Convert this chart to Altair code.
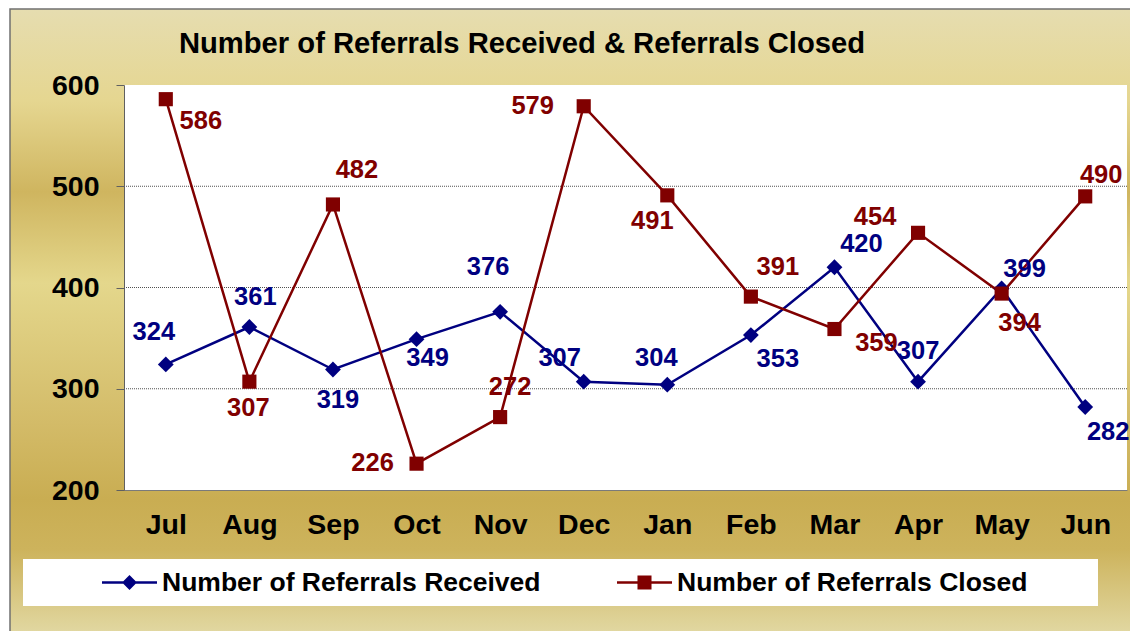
import altair as alt
import pandas as pd

# ---------------- data ----------------
months = ["Jul", "Aug", "Sep", "Oct", "Nov", "Dec", "Jan", "Feb", "Mar", "Apr", "May", "Jun"]
received = [324, 361, 319, 349, 376, 307, 304, 353, 420, 307, 399, 282]
closed = [586, 307, 482, 226, 272, 579, 491, 391, 359, 454, 394, 490]
series_names = ["Number of Referrals Received", "Number of Referrals Closed"]
y_ticks = [200, 300, 400, 500, 600]
grid_values = [300, 400, 500]
title_text = "Number of Referrals Received & Referrals Closed"

# ---------------- label placement (pixel offsets from each marker) ----------------
recv_dx = [-12, 6, 5, 11, -12, -24, -11, 27, 27, 0, 23, 23]
recv_dy = [-32, -30, 30, 19, -45, -24, -27, 24, -23, -31, -20, 25]
clos_dx = [35, -1, 24, -44, 10, -51, -15, 27, 42, -43, 18, 16]
clos_dy = [22, 26, -34, -1, -30, 0, 26, -30, 14, -16, 29, -21]

# ---------------- style ----------------
FONT = "Liberation Sans"
NAVY = "#000080"
MAROON = "#800000"
W, H = 1003, 405
PAD = {"left": 116, "top": 77, "right": 3, "bottom": 141}

rows = []
for i, m in enumerate(months):
    rows.append({"month": m, "series": series_names[0], "value": received[i],
                 "dx": recv_dx[i], "dy": recv_dy[i]})
    rows.append({"month": m, "series": series_names[1], "value": closed[i],
                 "dx": clos_dx[i], "dy": clos_dy[i]})
df = pd.DataFrame(rows)
one = pd.DataFrame({"k": [0]})
grid_df = pd.DataFrame({"g": grid_values})

gradient = alt.LinearGradient(
    gradient="linear", x1=0, x2=0, y1=0, y2=1,
    stops=[
        alt.GradientStop(offset=0.0, color="#e6ddb0"),
        alt.GradientStop(offset=0.148, color="#e5d690"),
        alt.GradientStop(offset=0.292, color="#cfb55f"),
        alt.GradientStop(offset=0.437, color="#e4d78c"),
        alt.GradientStop(offset=0.661, color="#d3bb68"),
        alt.GradientStop(offset=0.782, color="#c9ad52"),
        alt.GradientStop(offset=0.862, color="#cdb35c"),
        alt.GradientStop(offset=1.0, color="#e2d9a4"),
    ],
)

bg = alt.Chart(one).mark_rect(fill=gradient, stroke="#707070", strokeWidth=1.5).encode(
    x=alt.value(-114), x2=alt.value(W + PAD["right"] + 5),
    y=alt.value(-PAD["top"] + 1), y2=alt.value(H + PAD["bottom"] + 5),
)
legend_box = alt.Chart(one).mark_rect(fill="white").encode(
    x=alt.value(-101), x2=alt.value(974), y=alt.value(474), y2=alt.value(521)
)
plot_box = alt.Chart(one).mark_rect(fill="white").encode(
    x=alt.value(0), x2=alt.value(W), y=alt.value(0), y2=alt.value(H)
)

y_scale = alt.Scale(domain=[200, 600], nice=False, zero=False)
x_enc = alt.X(
    "month:N", sort=months, scale=alt.Scale(type="point", padding=0.5),
    axis=alt.Axis(title=None, labelAngle=0, ticks=False, tickSize=0, labelPadding=43,
                  labelBaseline="alphabetic", labelFont=FONT, labelFontSize=28.5,
                  labelFontWeight="bold", labelColor="black", domainColor="#7a7a7a",
                  domainWidth=1, zindex=1),
)
y_enc = alt.Y(
    "value:Q", scale=y_scale,
    axis=alt.Axis(title=None, values=y_ticks, grid=False, tickSize=8, tickColor="#606060",
                  domainColor="#606060", domainWidth=1, tickWidth=1, labelPadding=17,
                  labelFont=FONT, labelFontSize=28.5, labelFontWeight="bold",
                  labelColor="black", zindex=1),
)

PATH_RECV = ("M-1,-0.045L1,-0.045L1,0.045L-1,0.045Z "
             "M-0.27,0L0,-0.27L0.27,0L0,0.27Z")
PATH_CLOS = ("M-1,-0.045L1,-0.045L1,0.045L-1,0.045Z "
             "M-0.255,-0.255L0.255,-0.255L0.255,0.255L-0.255,0.255Z")


def series_legend(x, path, color):
    return alt.Legend(
        orient="none", legendX=x, legendY=470, direction="horizontal", title=None,
        padding=0, labelFont=FONT, labelFontSize=26.5, labelFontWeight="bold",
        labelColor="black", labelLimit=1000, labelOffset=5, symbolSize=3025,
        symbolStrokeWidth=0, symbolType=path, symbolFillColor=color, zindex=2,
    )


color_scale = alt.Scale(domain=series_names, range=[NAVY, MAROON])

grid = alt.Chart(grid_df).mark_rule(color="#505050", strokeWidth=1, strokeDash=[1, 1]).encode(
    y=alt.Y("g:Q", scale=y_scale)
)

lines = alt.Chart(df).mark_line(strokeWidth=2.5).encode(
    x=x_enc, y=y_enc,
    color=alt.Color("series:N", scale=color_scale, legend=None),
    detail="series:N",
)
points_recv = alt.Chart(df).transform_filter(
    alt.datum.series == series_names[0]
).mark_point(filled=True, size=250, shape="diamond", color=NAVY).encode(
    x=x_enc, y=y_enc,
    opacity=alt.Opacity("series:N", scale=alt.Scale(domain=[series_names[0]], range=[1]),
                        legend=series_legend(-22, PATH_RECV, NAVY)),
)
points_clos = alt.Chart(df).transform_filter(
    alt.datum.series == series_names[1]
).mark_point(filled=True, size=200, shape="square", color=MAROON).encode(
    x=x_enc, y=y_enc,
    opacity=alt.Opacity("series:N", scale=alt.Scale(domain=[series_names[1]], range=[1]),
                        legend=series_legend(493, PATH_CLOS, MAROON)),
)
labels = alt.Chart(df).mark_text(
    font=FONT, fontSize=25.5, fontWeight="bold", align="center", baseline="middle",
    dx={"expr": "datum.dx"}, dy={"expr": "datum.dy"},
).encode(x=x_enc, y=y_enc, text="value:Q",
         color=alt.Color("series:N", scale=color_scale, legend=None))

title = alt.Chart(one).mark_text(
    text=title_text, font=FONT, fontSize=29.2, fontWeight="bold", color="black",
    align="center", baseline="alphabetic",
).encode(x=alt.value(398), y=alt.value(-32))

chart = alt.layer(bg, legend_box, plot_box, grid, lines, points_recv, points_clos,
                  labels, title).resolve_scale(opacity="independent").resolve_legend(
    opacity="independent"
).properties(
    width=W, height=H, padding=PAD, autosize=alt.AutoSizeParams(type="none"),
).configure_view(stroke=None).configure(background="white")

chart.save("out.html", embed_options={"renderer": "svg", "actions": False})
